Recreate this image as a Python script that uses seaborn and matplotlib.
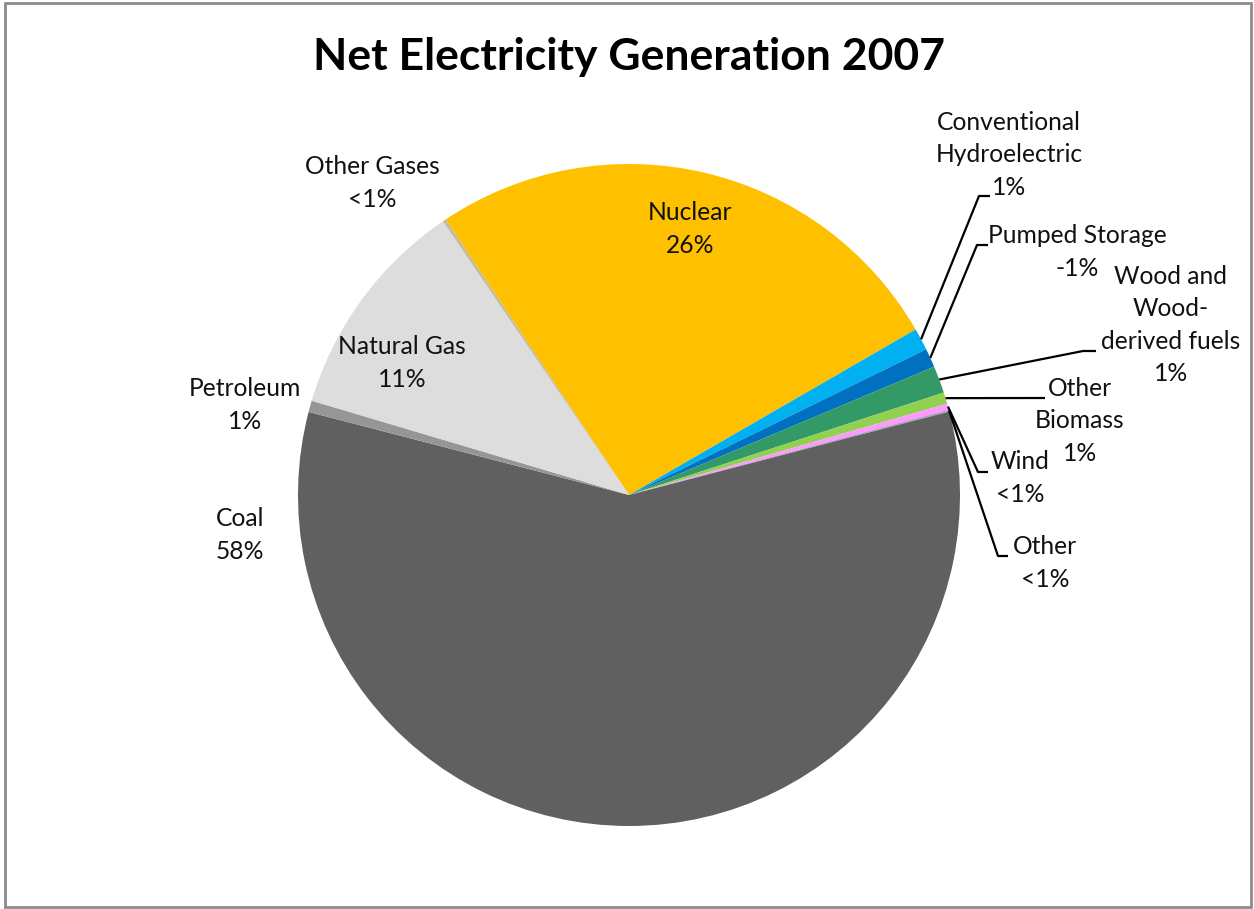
import numpy as np
import matplotlib.pyplot as plt
import seaborn as sns
from matplotlib.patches import Rectangle

# data, clockwise from the Nuclear slice (shares in percent)
sources = ['Nuclear', 'Conventional\nHydroelectric', 'Pumped Storage',
           'Wood and\nWood-\nderived fuels', 'Other\nBiomass', 'Wind', 'Other',
           'Coal', 'Petroleum', 'Natural Gas', 'Other Gases']
shares = [26.0, 1.08, 0.92, 1.33, 0.56, 0.29, 0.10, 58.1, 0.56, 10.9, 0.17]
pct_labels = ['26%', '1%', '-1%', '1%', '1%', '<1%', '<1%', '58%', '1%', '11%', '<1%']

colors = ['#FFC000', '#00B0F0', '#0070C0', '#339966', '#92D050', '#FF99FF',
          '#B3A2C7', '#606060', '#969696', '#DDDDDD', '#C4BD97']

# label centres in pixel space (y measured from top)
label_pos = [(690, 229), (1009, 155), (1077, 252), (1171, 325), (1080, 421),
             (1020, 478), (1045, 563), (240, 535), (245, 405), (402, 363),
             (372, 183)]
# leader lines: elbow point and end point, None = no leader
leaders = [None, ((979, 196), (990, 196)), ((977, 245), (988, 245)),
           ((1083, 351), (1096, 351)), ((1045, 398), (1045, 398)),
           ((978, 472), (988, 472)), ((998, 556), (1008, 556)),
           None, None, None, None]

W, H = 1254, 909
cx, cy, r = 629, H - 495, 331

sns.set_style('white')
plt.rcParams['font.family'] = ['Lato', 'DejaVu Sans']

fig = plt.figure(figsize=(W / 100, H / 100), dpi=100)
ax = fig.add_axes([0, 0, 1, 1])

wedges, _ = ax.pie(shares, colors=colors, startangle=123.6, counterclock=False,
                   center=(cx, cy), radius=r, frame=True,
                   wedgeprops={'linewidth': 0})
ax.set_xlim(0, W)
ax.set_ylim(0, H)
ax.set_aspect('equal')
ax.axis('off')

for w, name, pct, pos, lead in zip(wedges, sources, pct_labels, label_pos, leaders):
    ax.text(pos[0], H - pos[1], f'{name}\n{pct}', ha='center', va='center',
            fontsize=17.7, color='#111111', linespacing=1.5)
    if lead is not None:
        mid = np.deg2rad((w.theta1 + w.theta2) / 2)
        x0, y0 = cx + r * np.cos(mid), cy + r * np.sin(mid)
        (ex, ey), (fx, fy) = lead
        ax.plot([x0, ex, fx], [y0, H - ey, H - fy], color='black', lw=1.6,
                solid_capstyle='butt')

ax.text(629, H - 70, 'Net Electricity Generation 2007', ha='center',
        va='baseline', fontsize=32, fontweight='bold', color='black')

fig.patches.append(Rectangle((5 / W, 2 / H), 1246 / W, 904 / H,
                             transform=fig.transFigure, fill=False,
                             edgecolor='#8C8C8C', linewidth=2))

fig.savefig('out.png', dpi=100)
